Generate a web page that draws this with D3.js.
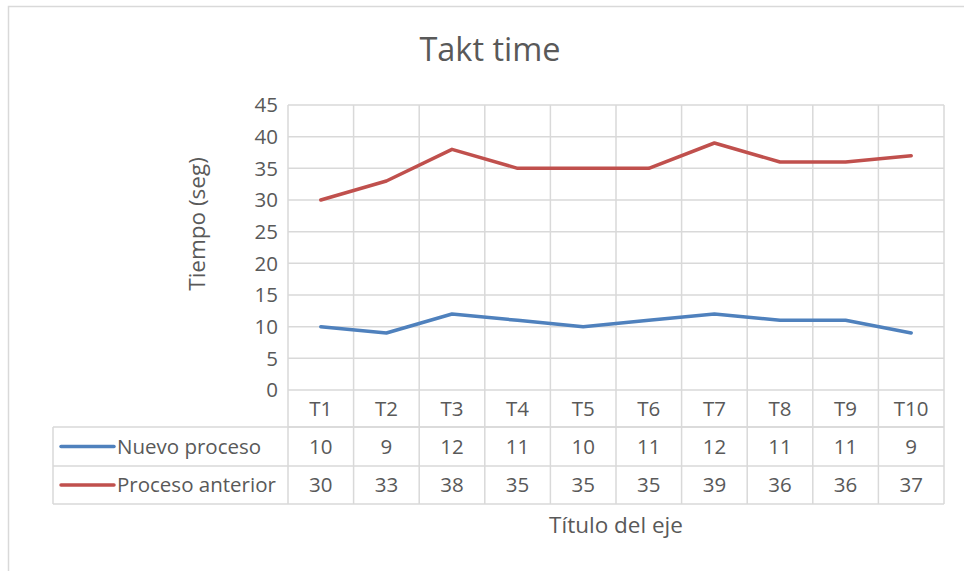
<!DOCTYPE html>
<html>
<head>
<meta charset="utf-8">
<script src="https://cdn.jsdelivr.net/npm/d3@7"></script>
<style>
  html, body { margin: 0; padding: 0; background: #fff; }
  svg { display: block; }
  text { font-family: "Open Sans", "Noto Sans", sans-serif; fill: #595959; }
</style>
</head>
<body>
<svg id="chart" width="964" height="571"></svg>
<script>
// Takt time per station, old vs new process
const categories = ["T1", "T2", "T3", "T4", "T5", "T6", "T7", "T8", "T9", "T10"];
const nuevoProceso = [10, 9, 12, 11, 10, 11, 12, 11, 11, 9];
const procesoAnterior = [30, 33, 38, 35, 35, 35, 39, 36, 36, 37];
const yTicks = [0, 5, 10, 15, 20, 25, 30, 35, 40, 45];
const seriesNames = ["Nuevo proceso", "Proceso anterior"];
const seriesColors = ["#4f81bd", "#c0504d"];

const series = [
  { name: seriesNames[0], values: nuevoProceso, color: seriesColors[0] },
  { name: seriesNames[1], values: procesoAnterior, color: seriesColors[1] }
];

const svg = d3.select("#chart");
const gridColor = "#d9d9d9";
const labelSize = 20.5;

// outer chart frame
svg.append("rect")
  .attr("x", 8.5).attr("y", 6.5)
  .attr("width", 1000).attr("height", 620)
  .attr("fill", "#fff").attr("stroke", gridColor).attr("stroke-width", 1.5);

const plot = { left: 288, right: 944, top: 105, bottom: 390 };
const rowH = [37, 39, 38]; // header row, then one row per series
const tableLeft = 53;

const x = d3.scaleBand().domain(categories).range([plot.left, plot.right]).padding(0);
const y = d3.scaleLinear().domain([0, 45]).range([plot.bottom, plot.top]);

// horizontal gridlines
svg.append("g").selectAll("line").data(yTicks).join("line")
  .attr("x1", plot.left).attr("x2", plot.right)
  .attr("y1", d => y(d)).attr("y2", d => y(d))
  .attr("stroke", gridColor).attr("stroke-width", 1.5);

// y tick labels
svg.append("g").selectAll("text").data(yTicks).join("text")
  .attr("x", 278).attr("y", d => y(d))
  .attr("dy", "0.35em")
  .attr("text-anchor", "end")
  .attr("font-size", labelSize)
  .text(d => d);

// table geometry
const rowTops = [plot.bottom, plot.bottom + rowH[0], plot.bottom + rowH[0] + rowH[1]];
const tableBottom = rowTops[2] + rowH[2];

// vertical lines: category boundaries through plot and table
const bounds = categories.map(c => x(c)).concat([plot.right]);
svg.append("g").selectAll("line").data(bounds).join("line")
  .attr("x1", d => d).attr("x2", d => d)
  .attr("y1", plot.top).attr("y2", tableBottom)
  .attr("stroke", gridColor).attr("stroke-width", 1.5);

// table horizontal lines
const hLines = [
  { x1: plot.left, y: rowTops[1] },
  { x1: tableLeft, y: rowTops[1] },
  { x1: tableLeft, y: rowTops[2] },
  { x1: tableLeft, y: tableBottom }
];
svg.append("g").selectAll("line").data(hLines).join("line")
  .attr("x1", d => d.x1).attr("x2", plot.right)
  .attr("y1", d => d.y).attr("y2", d => d.y)
  .attr("stroke", gridColor).attr("stroke-width", 1.5);
svg.append("line")
  .attr("x1", tableLeft).attr("x2", tableLeft)
  .attr("y1", rowTops[1]).attr("y2", tableBottom)
  .attr("stroke", gridColor).attr("stroke-width", 1.5);

// category header labels
svg.append("g").selectAll("text").data(categories).join("text")
  .attr("x", d => x(d) + x.bandwidth() / 2)
  .attr("y", rowTops[0] + rowH[0] / 2)
  .attr("dy", "0.35em")
  .attr("text-anchor", "middle")
  .attr("font-size", labelSize)
  .text(d => d);

// series rows: legend key, name, values
series.forEach((s, i) => {
  const cy = rowTops[i + 1] + rowH[i + 1] / 2;
  svg.append("line")
    .attr("x1", 61).attr("x2", 114)
    .attr("y1", cy).attr("y2", cy)
    .attr("stroke", s.color).attr("stroke-width", 3.5)
    .attr("stroke-linecap", "round");
  svg.append("text")
    .attr("x", 117).attr("y", cy).attr("dy", "0.35em")
    .attr("font-size", labelSize)
    .text(s.name);
  svg.append("g").selectAll("text").data(s.values).join("text")
    .attr("x", (d, j) => x(categories[j]) + x.bandwidth() / 2)
    .attr("y", cy).attr("dy", "0.35em")
    .attr("text-anchor", "middle")
    .attr("font-size", labelSize)
    .text(d => d);
});

// lines
const line = d3.line()
  .x((d, j) => x(categories[j]) + x.bandwidth() / 2)
  .y(d => y(d));

svg.append("g").selectAll("path").data(series).join("path")
  .attr("d", d => line(d.values))
  .attr("fill", "none")
  .attr("stroke", d => d.color)
  .attr("stroke-width", 3.5)
  .attr("stroke-linecap", "round")
  .attr("stroke-linejoin", "round");

// titles
svg.append("text")
  .attr("x", 490).attr("y", 61)
  .attr("text-anchor", "middle")
  .attr("font-size", 32.5)
  .text("Takt time");

svg.append("text")
  .attr("transform", "translate(205,224) rotate(-90)")
  .attr("text-anchor", "middle")
  .attr("font-size", 22.5)
  .text("Tiempo (seg)");

svg.append("text")
  .attr("x", 616).attr("y", 533)
  .attr("text-anchor", "middle")
  .attr("font-size", 22.5)
  .text("Título del eje");
</script>
</body>
</html>
